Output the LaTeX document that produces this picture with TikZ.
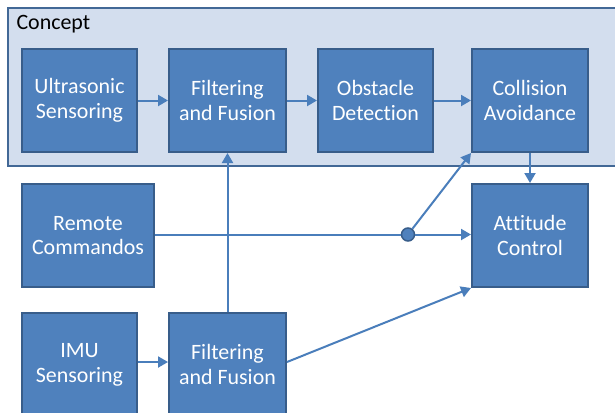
\documentclass[tikz,border=0pt]{standalone}
\usepackage{fontspec}
\setmainfont{Carlito}[Ligatures = NoCommon]
\usetikzlibrary{arrows.meta}
\definecolor{blockfill}{RGB}{79,129,189}
\definecolor{blockline}{RGB}{56,93,138}
\definecolor{framefill}{RGB}{211,222,238}
\definecolor{frameline}{RGB}{66,104,150}
\definecolor{wire}{RGB}{74,126,187}
\begin{document}
\begin{tikzpicture}[x = 1bp, y = -1bp,
        block/.style = {draw = blockline, fill = blockfill, line width = 2bp, text = white,
            align = center, minimum height = 103bp, inner sep = 0pt,
            font = \fontsize{22}{25}\selectfont},
        wire/.style = {draw = wire, line width = 2bp},
        feed/.style = {wire, -{Triangle[length = 10bp, width = 11bp]}}]
            \clip (0, 0) rectangle (615, 412);
            % concept frame
            \node [draw = frameline, fill = framefill, line width = 2bp, minimum width = 617bp,
                minimum height = 158bp, inner sep = 0pt] (concept) at (316.5, 87) {};
            \node [anchor = west, font = \fontsize{22}{25}\selectfont] (conceptlabel) at (13, 24.5) {Concept};
            % blocks
            \node [block, minimum width = 115bp] (ultra) at (79.5, 100.5) {Ultrasonic\\Sensoring};
            \node [block, minimum width = 117bp] (filtup) at (227.5, 100.5) {Filtering\\and Fusion};
            \node [block, minimum width = 115bp] (obst) at (375.5, 100.5) {Obstacle\\Detection};
            \node [block, minimum width = 116bp] (coll) at (530, 100.5) {Collision\\Avoidance};
            \node [block, minimum width = 132bp] (remote) at (88, 235.5) {Remote\\Commandos};
            \node [block, minimum width = 116bp] (att) at (530, 235.5) {Attitude\\Control};
            \node [block, minimum width = 115bp] (imu) at (79.5, 364.5) {IMU\\Sensoring};
            \node [block, minimum width = 117bp] (filtlow) at (227.5, 364.5) {Filtering\\and Fusion};
            \node [circle, draw = blockline, fill = blockfill, line width = 1.5bp, minimum size = 13bp,
                inner sep = 0pt] (junc) at (408, 234.5) {};
            % connectors
            \draw [feed] (ultra) -- (filtup);
            \draw [feed] (filtup) -- (obst);
            \draw [feed] (obst) -- (coll);
            \draw [feed] (coll) -- (att);
            \draw [feed] (filtlow) -- (filtup);
            \draw [wire] (remote.east |- junc) -- (junc);
            \draw [feed] (junc) -- (att.west |- junc);
            \draw [feed] (junc) -- (coll.south west);
            \draw [feed] (imu.east |- 0, 362) -- (filtlow.west |- 0, 362);
            \draw [feed] (filtlow.east |- 0, 362) -- (att.south west);
        \end{tikzpicture}
\end{document}
